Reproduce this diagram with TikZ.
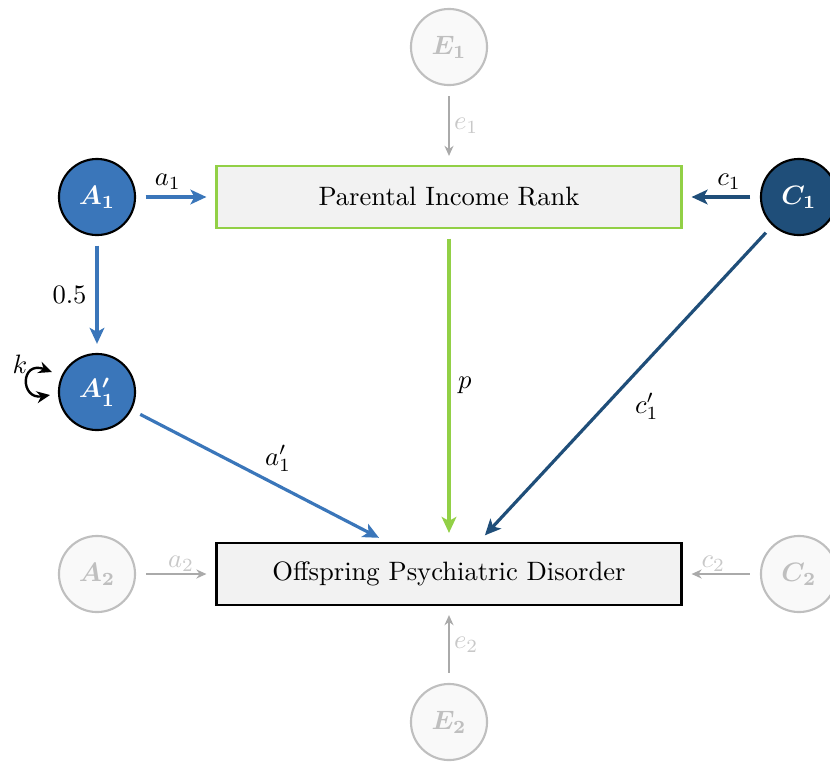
\documentclass[tikz,border=0pt]{standalone}
\usepackage{amsmath,bm}
\usetikzlibrary{arrows.meta}
\definecolor{ablue}{RGB}{58,118,186}
\definecolor{cblue}{RGB}{31,78,121}
\definecolor{pgreen}{RGB}{146,208,70}
\definecolor{boxgray}{RGB}{242,242,242}
\definecolor{ghost}{RGB}{191,191,191}
\definecolor{ghostfill}{RGB}{249,249,249}
\definecolor{ghostarrow}{RGB}{170,170,170}
\definecolor{ghosttext}{RGB}{200,200,200}
\begin{document}
\begin{tikzpicture}[x=0.376pt,y=-0.376pt,
  latent/.style={circle,minimum size=28.6pt,inner sep=0pt,line width=0.8pt,draw=black,text=white,font=\boldmath},
  ghostnode/.style={circle,minimum size=28.6pt,inner sep=0pt,line width=0.8pt,draw=ghost,fill=ghostfill,text=ghost,font=\boldmath},
  obsbox/.style={rectangle,minimum width=174.8pt,minimum height=23.3pt,inner sep=0pt,line width=0.8pt,fill=boxgray},
  main/.style={line width=1.2pt,-{Stealth[length=6pt,width=5.5pt,inset=1.5pt]},shorten <=3.6pt,shorten >=3.4pt},
  ghostarr/.style={line width=0.8pt,draw=ghostarrow,-{Stealth[length=3.8pt,width=3.4pt]},shorten <=3.8pt,shorten >=3.4pt},
  glabel/.style={text=ghosttext,inner sep=1.5pt}
]
\useasboundingbox (0,0) rectangle (830,762);

\node[obsbox,draw=pgreen] (top) at (449,197) {Parental Income Rank};
\node[obsbox,draw=black] (bot) at (449,574) {Offspring Psychiatric Disorder};

\node[latent,fill=ablue] (A1) at (97,197) {$A_1$};
\node[latent,fill=cblue] (C1) at (799,197) {$C_1$};
\node[latent,fill=ablue] (A1p) at (97,392) {$A_1'$};
\node[ghostnode] (E1) at (449,47) {$E_1$};
\node[ghostnode] (E2) at (449,722) {$E_2$};
\node[ghostnode] (A2) at (97,574) {$A_2$};
\node[ghostnode] (C2) at (799,574) {$C_2$};

\draw[main,ablue] (A1) -- node[above=-1pt,text=black,xshift=-3pt] {$a_1$} (top);
\draw[main,cblue] (C1) -- node[above=-1pt,text=black,xshift=3pt] {$c_1$} (top);
\draw[main,ablue] (A1) -- node[left=0pt,text=black] {$0.5$} (A1p);
\draw[main,pgreen] (top) -- node[right=-0.5pt,text=black] {$p$} (bot);
\draw[main,cblue] (C1) -- node[text=black,pos=0.45,xshift=2.5pt,yshift=-14.5pt] {$c_1'$} (bot);
\draw[main,ablue] (A1p) -- node[text=black,xshift=7pt,yshift=6.5pt] {$a_1'$} (bot);

\draw[ghostarr] (E1) -- node[right,glabel] {$e_1$} (top);
\draw[ghostarr] (E2) -- node[right,glabel] {$e_2$} (bot);
\draw[ghostarr] (A2) -- node[above=-1pt,glabel,xshift=2pt] {$a_2$} (bot);
\draw[ghostarr] (C2) -- node[above=-1pt,glabel,xshift=-3pt] {$c_2$} (bot);

\coordinate (kA) at (52,372);
\coordinate (kB) at (50,395);
\draw[line width=0.9pt,{Stealth[length=5pt,width=4.5pt]}-{Stealth[length=5pt,width=4.5pt]}] (kA) .. controls (20,360) and (20,400) .. (kB);
\node (klab) at (20,364) {$k$};
\end{tikzpicture}
\end{document}
